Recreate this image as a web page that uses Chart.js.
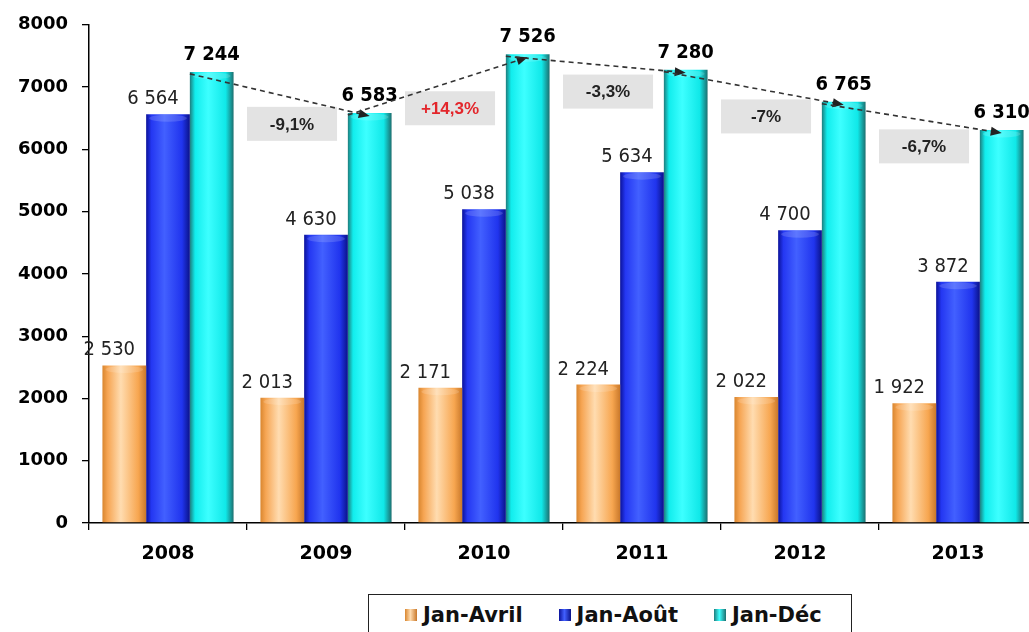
<!DOCTYPE html>
<html lang="fr">
<head>
<meta charset="UTF-8">
<title>Jan-Avril / Jan-Août / Jan-Déc</title>
<script src="https://cdn.jsdelivr.net/npm/chart.js"></script>
<style>
    html, body { margin: 0; padding: 0; background: #fff; overflow: hidden; }
    #wrap { position: relative; width: 1040px; height: 565px; }
    #legend {
        position: absolute; left: 368px; top: 594px; width: 484px; height: 44px;
        border: 1px solid #222; box-sizing: border-box;
        display: flex; align-items: flex-start; padding: 8px 0 0 36px; gap: 36px;
        font: bold 21px "DejaVu Sans", sans-serif; color: #111;
    }
    #legend .item { display: flex; align-items: center; white-space: nowrap; }
    #legend .sw { width: 12px; height: 12px; margin-right: 6px; }
</style>
</head>
<body>
<div id="wrap"><canvas id="chart"></canvas></div>
<div id="legend"></div>

<script>
const years = ["2008", "2009", "2010", "2011", "2012", "2013"];
const seriesNames = ["Jan-Avril", "Jan-Août", "Jan-Déc"];
const janAvril = [2530, 2013, 2171, 2224, 2022, 1922];
const janAout = [6564, 4630, 5038, 5634, 4700, 3872];
const janDec = [7244, 6583, 7526, 7280, 6765, 6310];
const changes = ["", "-9,1%", "+14,3%", "-3,3%", "-7%", "-6,7%"];
const yMax = 8000;
const yStep = 1000;

// dark edge, mid, light, mid, dark edge
const shades = [
    ["#d9862f", "#f6a553", "#ffdcb0", "#f7a650", "#c9782a"],
    ["#0b129a", "#2437f2", "#4260ff", "#2034ee", "#0a1288"],
    ["#1e7d7d", "#11eded", "#3dffff", "#10e8e8", "#1d6f6f"]
];

function fmt(v) {
    return String(v).replace(/\B(?=(\d{3})+(?!\d))/g, " ");
}

function barShade(ctx, x0, x1, s) {
    const g = ctx.createLinearGradient(x0, 0, x1, 0);
    g.addColorStop(0, s[0]);
    g.addColorStop(0.12, s[1]);
    g.addColorStop(0.42, s[2]);
    g.addColorStop(0.82, s[3]);
    g.addColorStop(1, s[4]);
    return g;
}

const cylinder = {
    id: "cylinder",
    beforeDatasetsDraw(chart) {
        const ctx = chart.ctx;
        chart.data.datasets.forEach((ds, d) => {
            chart.getDatasetMeta(d).data.forEach(el => {
                el.options.backgroundColor = barShade(ctx, el.x - el.width / 2, el.x + el.width / 2, shades[d]);
            });
        });
    },
    afterDatasetsDraw(chart) {
        const ctx = chart.ctx;
        ctx.save();
        // soft cap at top of each bar
        chart.data.datasets.forEach((ds, d) => {
            chart.getDatasetMeta(d).data.forEach(el => {
                ctx.fillStyle = "rgba(255,255,255,0.15)";
                ctx.beginPath();
                ctx.ellipse(el.x, el.y + 4, el.width / 2 - 3, 3.5, 0, 0, Math.PI * 2);
                ctx.fill();
            });
        });

        // value labels
        const offsets = [-15, -15, 0];
        const lift = [10, 10, 12];
        chart.data.datasets.forEach((ds, d) => {
            ctx.font = d === 2 ? 'bold 20px "DejaVu Sans Condensed", "DejaVu Sans", sans-serif'
                               : '20px "DejaVu Sans Condensed", "DejaVu Sans", sans-serif';
            ctx.fillStyle = d === 2 ? "#000" : "#222";
            ctx.textAlign = "center";
            ctx.textBaseline = "alphabetic";
            chart.getDatasetMeta(d).data.forEach((el, i) => {
                ctx.fillText(fmt(ds.data[i]), el.x + offsets[d], el.y - lift[d]);
            });
        });

        // dashed arrows between Jan-Déc bars and change boxes
        const bars = chart.getDatasetMeta(2).data;
        const xs = chart.scales.x;
        const catW = xs.width / years.length;
        for (let i = 1; i < bars.length; i++) {
            const a = bars[i - 1], b = bars[i];
            const x0 = a.x - a.width / 2, y0 = a.y + 2;
            const x1 = b.x, y1 = b.y + 3;

            // box
            const bw = catW * 0.57, bh = 34;
            const bl = xs.getPixelForValue(i) - catW / 2;
            const bcx = bl + bw / 2;
            const lineY = y0 + (y1 - y0) * (bcx - x0) / (x1 - x0);
            const bcy = lineY + 26;
            ctx.fillStyle = "#e3e3e3";
            ctx.fillRect(bl, bcy - bh / 2, bw, bh);
            ctx.font = 'bold 17px "Liberation Sans", Arial, sans-serif';
            ctx.textAlign = "center";
            ctx.textBaseline = "middle";
            ctx.fillStyle = changes[i].startsWith("+") ? "#e3262b" : "#222";
            ctx.fillText(changes[i], bcx, bcy + 1);

            // dashed line
            ctx.strokeStyle = "#333";
            ctx.lineWidth = 1.6;
            ctx.setLineDash([5, 4]);
            const ang = Math.atan2(y1 - y0, x1 - x0);
            const hl = 11;
            ctx.beginPath();
            ctx.moveTo(x0, y0);
            ctx.lineTo(x1 - Math.cos(ang) * hl, y1 - Math.sin(ang) * hl);
            ctx.stroke();
            ctx.setLineDash([]);
            ctx.fillStyle = "#222";
            ctx.beginPath();
            ctx.moveTo(x1, y1);
            ctx.lineTo(x1 - Math.cos(ang) * hl - Math.sin(ang) * 4.5, y1 - Math.sin(ang) * hl + Math.cos(ang) * 4.5);
            ctx.lineTo(x1 - Math.cos(ang) * hl + Math.sin(ang) * 4.5, y1 - Math.sin(ang) * hl - Math.cos(ang) * 4.5);
            ctx.closePath();
            ctx.fill();
        }
        ctx.restore();
    }
};

const ctx = document.getElementById("chart").getContext("2d");
const chart = new Chart(ctx, {
    type: "bar",
    data: {
        labels: years,
        datasets: [janAvril, janAout, janDec].map((vals, d) => ({
            label: seriesNames[d],
            data: vals,
            backgroundColor: c => shades[d][1],
            borderWidth: 0,
            categoryPercentage: 0.83,
            barPercentage: 1.0
        }))
    },
    options: {
        responsive: true,
        maintainAspectRatio: false,
        animation: false,
        layout: { padding: { top: 14, right: 3, bottom: 0, left: 0 } },
        plugins: {
            legend: { display: false },
            tooltip: { enabled: false }
        },
        scales: {
            x: {
                grid: { drawOnChartArea: false, color: "#000", tickLength: 7, lineWidth: 1.3 },
                border: { color: "#000", width: 1.5 },
                ticks: { color: "#000", padding: 13, font: { family: "DejaVu Sans", size: 19, weight: "bold" } },
                afterFit: s => { s.height = 42; }
            },
            y: {
                min: 0,
                max: yMax,
                grid: { drawOnChartArea: false, color: "#000", tickLength: 7, lineWidth: 1.3 },
                border: { color: "#000", width: 1.5 },
                ticks: {
                    stepSize: yStep, color: "#000", padding: 14,
                    font: { family: "DejaVu Sans", size: 18, weight: "bold" },
                    callback: v => String(v)
                },
                afterFit: s => { s.width = 89; }
            }
        }
    },
    plugins: [cylinder]
});

// legend
const legend = document.getElementById("legend");
seriesNames.forEach((name, d) => {
    const item = document.createElement("div");
    item.className = "item";
    const sw = document.createElement("span");
    sw.className = "sw";
    sw.style.background = "linear-gradient(to right," + shades[d][0] + "," + shades[d][2] + " 45%," + shades[d][4] + ")";
    item.appendChild(sw);
    item.appendChild(document.createTextNode(name));
    legend.appendChild(item);
});
</script>
</body>
</html>
